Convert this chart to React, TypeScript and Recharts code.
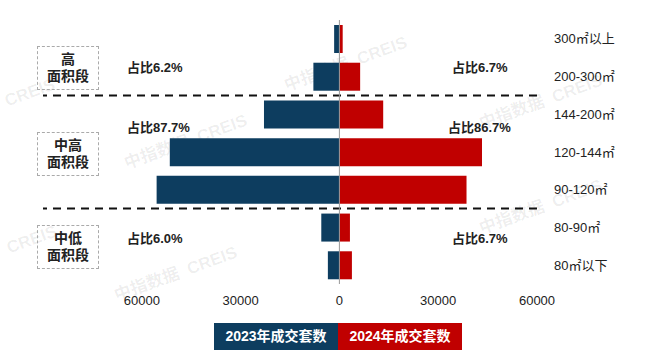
import React from 'react'
import { Bar, BarChart, Legend, ReferenceLine, XAxis, YAxis } from 'recharts'

// 面积段（自上而下）
const categories = ['300㎡以上', '200-300㎡', '144-200㎡', '120-144㎡', '90-120㎡', '80-90㎡', '80㎡以下']
// 成交套数（2023 画在左侧，取负值）
const sales2023 = [1600, 7900, 22900, 51500, 55500, 5500, 3500]
const sales2024 = [1000, 6300, 13300, 43300, 38600, 3200, 3800]
const xTicks = [-60000, -30000, 0, 30000, 60000]

const groupNames = [['高', '面积段'], ['中高', '面积段'], ['中低', '面积段']]
const share2023 = ['占比6.2%', '占比87.7%', '占比6.0%']
const share2024 = ['占比6.7%', '占比86.7%', '占比6.7%']
// 分段线位于这些面积段的上沿
const groupStarts = ['144-200㎡', '80-90㎡']

const BLUE = '#0d3d5f'
const RED = '#c00000'
const FONT = '"Liberation Sans", Arial, "Noto Sans CJK SC", sans-serif'

const data = categories.map((name, i) => ({
    name,
    y2023: -sales2023[i],
    y2024: sales2024[i],
}))

const groupBoxTop = [46, 132, 225]
const shareTop = [60, 120, 231]

const watermarks = [
    { text: 'CREIS', x: 30, y: 93 },
    { text: '中指数据  CREIS', x: 185, y: 140 },
    { text: '中指数据  CREIS', x: 540, y: 100 },
    { text: '中指数据  CREIS', x: 540, y: 205 },
    { text: '中指数据  CREIS', x: 175, y: 272 },
    { text: 'CREIS', x: 32, y: 240 },
    { text: '中指数据  CREIS', x: 345, y: 62 },
]

function LegendBoxes() {
    const item = (label: string, color: string) => (
        <div
            style={{
                width: 124,
                height: 27,
                background: color,
                color: '#fff',
                fontWeight: 'bold',
                fontSize: 14,
                lineHeight: '27px',
                textAlign: 'center',
                fontFamily: FONT,
            }}
        >
            {label}
        </div>
    )
    return (
        <div style={{ display: 'flex', justifyContent: 'flex-start', marginLeft: 214 }}>
            {item('2023年成交套数', BLUE)}
            {item('2024年成交套数', RED)}
        </div>
    )
}

export default function App() {
    return (
        <div style={{ position: 'absolute', left: 0, top: 0, width: 660, height: 362, background: '#fff', fontFamily: FONT }}>
            {watermarks.map((w, i) => (
                <div
                    key={i}
                    style={{
                        position: 'absolute',
                        left: w.x,
                        top: w.y,
                        transform: 'translate(-50%, -50%) rotate(-20deg)',
                        whiteSpace: 'pre',
                        fontSize: 17,
                        fontWeight: 'bold',
                        color: 'rgba(0,0,0,0.07)',
                    }}
                >
                    {w.text}
                </div>
            ))}
            <BarChart
                width={660}
                height={362}
                data={data}
                layout="vertical"
                stackOffset="sign"
                margin={{ top: 20, right: 0, bottom: 21, left: 43 }}
                style={{ position: 'absolute', left: 0, top: 0 }}
            >
                <XAxis
                    type="number"
                    domain={[-90000, 60000]}
                    ticks={xTicks}
                    tickFormatter={(v: number) => String(Math.abs(v))}
                    axisLine={false}
                    tickLine={false}
                    tickMargin={6}
                    height={30}
                    tick={{ fill: '#222', fontSize: 13 }}
                />
                <YAxis
                    type="category"
                    dataKey="name"
                    orientation="right"
                    width={123}
                    axisLine={false}
                    tickLine={false}
                    tick={{ fill: '#222', fontSize: 13, textAnchor: 'start', dx: 9 }}
                />
                {groupStarts.map((c) => (
                    <ReferenceLine key={c} y={c} position="start" stroke="#111" strokeWidth={2} strokeDasharray="8 6" />
                ))}
                <Bar dataKey="y2023" stackId="a" fill={BLUE} barSize={28} isAnimationActive={false} />
                <Bar dataKey="y2024" stackId="a" fill={RED} barSize={28} isAnimationActive={false} />
                <ReferenceLine x={0} stroke="#999" strokeWidth={1} />
                <Legend
                    verticalAlign="bottom"
                    content={() => <LegendBoxes />}
                    wrapperStyle={{ left: 0, top: 323, width: 660 }}
                />
            </BarChart>
            {groupNames.map((g, i) => (
                <div
                    key={i}
                    style={{
                        position: 'absolute',
                        left: 37,
                        top: groupBoxTop[i],
                        width: 62,
                        height: 44,
                        border: '1px dashed #aaa',
                        boxSizing: 'border-box',
                        display: 'flex',
                        flexDirection: 'column',
                        justifyContent: 'center',
                        alignItems: 'center',
                        fontSize: 14,
                        fontWeight: 'bold',
                        lineHeight: '17px',
                        color: '#222',
                    }}
                >
                    <span>{g[0]}</span>
                    <span>{g[1]}</span>
                </div>
            ))}
            {share2023.map((s, i) => (
                <div
                    key={'l' + i}
                    style={{ position: 'absolute', left: 127, top: shareTop[i], fontSize: 13, fontWeight: 'bold', color: '#222', lineHeight: '16px' }}
                >
                    {s}
                </div>
            ))}
            {share2024.map((s, i) => (
                <div
                    key={'r' + i}
                    style={{ position: 'absolute', left: i === 1 ? 448 : 452, top: shareTop[i], fontSize: 13, fontWeight: 'bold', color: '#222', lineHeight: '16px' }}
                >
                    {s}
                </div>
            ))}
        </div>
    )
}
